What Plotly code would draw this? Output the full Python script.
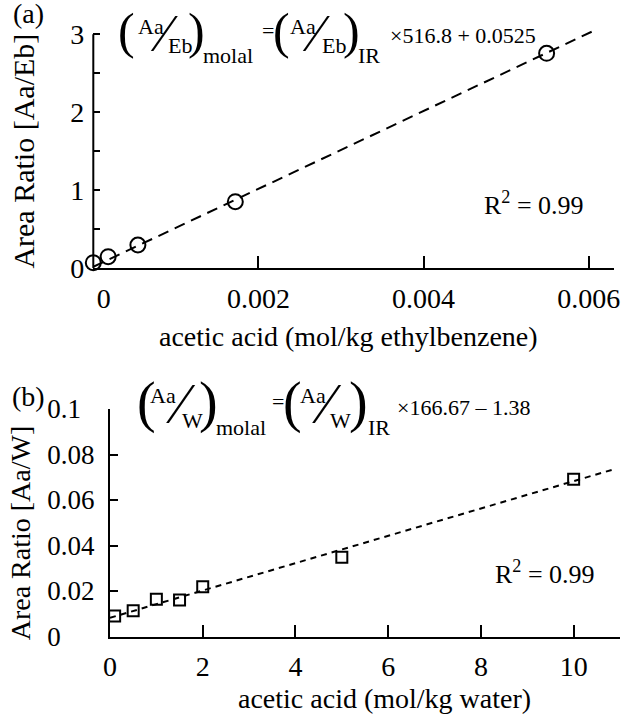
import plotly.graph_objects as go

# ---------------- data ----------------
# panel (a): acetic acid in ethylbenzene
conc_eb = [0.0, 0.00018, 0.00054, 0.00172, 0.00549]
ratio_eb = [0.072, 0.149, 0.299, 0.854, 2.756]
fit_eb_x = [0.0, 0.006036]
fit_eb_y = [0.02, 3.033]

# panel (b): acetic acid in water
conc_w = [0.1, 0.5, 1.0, 1.5, 2.0, 5.0, 10.0]
ratio_w = [0.0090, 0.0113, 0.0164, 0.0160, 0.0219, 0.0348, 0.0691]
fit_w_x = [0.0, 10.9]
fit_w_y = [0.0082, 0.0737]

xticks_a = [0, 0.002, 0.004, 0.006]
xticklabels_a = ["\u00a0\u00a0\u00a00", "0.002", "0.004", "0.006"]
yticks_a = [0, 1, 2, 3]
yticklabels_a = ["0", "1", "2", "3"]
yminor_a = [0.5, 1.5, 2.5]

xticks_b = [0, 2, 4, 6, 8, 10]
xticklabels_b = ["0", "2", "4", "6", "8", "10"]
yticks_b = [0, 0.02, 0.04, 0.06, 0.08, 0.1]
yticklabels_b = ["0" + "\u00a0" * 5, "0.02", "0.04", "0.06", "0.08", "0.1" + "\u00a0" * 2]

W, H = 621, 715
FONT = "'Liberation Serif', Tinos, 'Times New Roman', Times, 'DejaVu Serif', serif"


def px(x):
    return x / W


def py(y):
    return 1 - y / H


fig = go.Figure()

fig.add_trace(go.Scatter(x=fit_eb_x, y=fit_eb_y, mode="lines",
                         line=dict(color="black", width=2, dash="11px,7px"),
                         xaxis="x", yaxis="y", showlegend=False, hoverinfo="skip"))
fig.add_trace(go.Scatter(x=conc_eb, y=ratio_eb, mode="markers",
                         marker=dict(symbol="circle-open", size=15, color="black",
                                     line=dict(width=2, color="black")),
                         cliponaxis=False, xaxis="x", yaxis="y", showlegend=False))

fig.add_trace(go.Scatter(x=fit_w_x, y=fit_w_y, mode="lines",
                         line=dict(color="black", width=2, dash="6px,5px"),
                         xaxis="x2", yaxis="y2", showlegend=False, hoverinfo="skip"))
fig.add_trace(go.Scatter(x=conc_w, y=ratio_w, mode="markers",
                         marker=dict(symbol="square-open", size=11, color="black",
                                     line=dict(width=2, color="black")),
                         cliponaxis=False, xaxis="x2", yaxis="y2", showlegend=False))

tickfont = dict(family=FONT, size=28, color="black")

axis_common = dict(showgrid=False, zeroline=False, ticks="inside", tickwidth=2,
                   tickcolor="black", linecolor="black", linewidth=2,
                   tickmode="array", tickfont=tickfont, automargin=False)

fig.update_layout(
    width=W, height=H,
    margin=dict(l=0, r=0, t=0, b=0, pad=0, autoexpand=False),
    paper_bgcolor="white", plot_bgcolor="white",
    showlegend=False,
    font=dict(family=FONT, color="black"),
    xaxis=dict(axis_common, domain=[px(93.3), px(613.5)], range=[0, 0.0063],
               tickvals=xticks_a, ticktext=xticklabels_a, ticklen=12,
               showline=True, anchor="y", ticklabelstandoff=4),
    yaxis=dict(axis_common, domain=[py(268.3), py(29.6)], range=[0, 3.06],
               tickvals=yticks_a, ticktext=yticklabels_a, ticklen=7,
               showline=False, anchor="x", ticklabelstandoff=8,
               minor=dict(tickvals=yminor_a, ticks="inside", ticklen=7,
                          tickwidth=2, tickcolor="black", showgrid=False)),
    xaxis2=dict(axis_common, domain=[px(110), px(620)], range=[0, 11],
                tickvals=xticks_b, ticktext=xticklabels_b, ticklen=12,
                showline=True, anchor="y2", ticklabelstandoff=4),
    yaxis2=dict(axis_common, domain=[py(636.5), py(409)], range=[0, 0.1],
                tickvals=yticks_b, ticktext=yticklabels_b, ticklen=8,
                showline=True, anchor="x2", ticklabelstandoff=8,
                tickfont=dict(family=FONT, size=27, color="black")),
)

# y-axis line of panel (a), from 0 to 3
fig.add_shape(type="line", xref="x domain", yref="y", x0=0, x1=0, y0=0, y1=3,
              line=dict(color="black", width=2))

annots = []


def txt(text, x, y, size, angle=0):
    annots.append(dict(text=text, x=px(x), y=py(y), xref="paper", yref="paper",
                       xanchor="center", yanchor="middle", showarrow=False,
                       textangle=angle,
                       font=dict(family=FONT, size=size, color="black")))


# panel labels
txt("(a)", 28, 13, 28)
txt("(b)", 28, 396, 28)

# axis titles
txt("acetic acid (mol/kg ethylbenzene)", 348.5, 336, 28)
txt("acetic acid (mol/kg water)", 384.5, 698.5, 28)
txt("Area Ratio [Aa/Eb]", 23.6, 151, 30, -90)
txt("Area Ratio [Aa/W]", 20.3, 533, 28, -90)

# R^2
txt("R<sup>2</sup> = 0.99", 533.5, 204, 26)
txt("R<sup>2</sup> = 0.99", 545, 572.5, 26)

# equation (a)
txt("(", 126.5, 31, 50)
txt("Aa", 151, 26, 22)
txt("\u2044", 164, 33, 52)
txt("Eb", 179.5, 45.5, 22)
txt(")", 196, 31, 50)
txt("molal", 228, 55.6, 22)
txt("=", 267.5, 30, 22)
txt("(", 281.5, 31, 50)
txt("Aa", 302.5, 26, 22)
txt("\u2044", 316, 33, 52)
txt("Eb", 333.5, 45.5, 22)
txt(")", 351, 31, 50)
txt("IR", 369, 55.6, 22)
txt("\u00d7516.8 + 0.0525", 462.5, 35, 22)

# equation (b)
txt("(", 146, 402.5, 56)
txt("Aa", 162.5, 395.5, 22)
txt("\u2044", 181, 404, 56)
txt("W", 192.5, 420, 22)
txt(")", 208, 402.5, 56)
txt("molal", 241, 427.6, 22)
txt("=", 277.5, 401.5, 22)
txt("(", 292, 402.5, 56)
txt("Aa", 312.5, 395.5, 22)
txt("\u2044", 327, 404, 56)
txt("W", 340.5, 420, 22)
txt(")", 358, 402.5, 56)
txt("IR", 378.5, 427.6, 22)
txt("\u00d7166.67 \u2013 1.38", 463, 408, 22)

fig.update_layout(annotations=annots)

fig.write_html("out.html",
               config={"displayModeBar": False},
               post_script="document.body.style.margin='0px';"
                           "document.body.style.overflow='hidden';")
